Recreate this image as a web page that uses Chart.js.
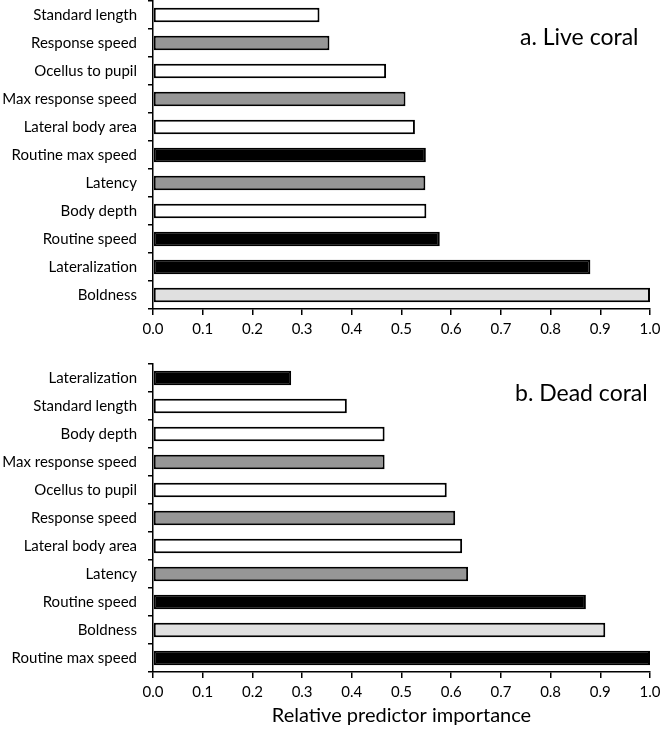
<!DOCTYPE html>
<html><head><meta charset="utf-8">
<script src="https://cdn.jsdelivr.net/npm/chart.js@4.4.0/dist/chart.umd.min.js"></script>
<style>
html,body{margin:0;padding:0;background:#fff;}
#wrap{position:relative;width:669px;height:735px;overflow:hidden;background:#fff;}
.box{position:absolute;left:0;width:669px;}
.panel{position:absolute;font-family:Lato, sans-serif;font-size:23px;line-height:30px;color:#000;white-space:nowrap;}
</style></head><body>
<div id="wrap">
<div class="box" style="top:0;height:350px"><canvas id="c1"></canvas></div>
<div class="box" style="top:350px;height:385px"><canvas id="c2"></canvas></div>
<div class="panel" style="left:520px;top:21px">a. Live coral</div>
<div class="panel" style="left:515px;top:377px">b. Dead coral</div>
</div>
<script>
// Panel a: Live coral
const liveCategories = ["Standard length","Response speed","Ocellus to pupil","Max response speed","Lateral body area","Routine max speed","Latency","Body depth","Routine speed","Lateralization","Boldness"];
const liveValues = [0.335,0.355,0.469,0.508,0.527,0.549,0.548,0.550,0.577,0.880,1.000];
const liveGroups = ["morph","escape","morph","escape","morph","routine","escape","morph","routine","routine","bold"];

// Panel b: Dead coral
const deadCategories = ["Lateralization","Standard length","Body depth","Max response speed","Ocellus to pupil","Response speed","Lateral body area","Latency","Routine speed","Boldness","Routine max speed"];
const deadValues = [0.278,0.390,0.466,0.466,0.591,0.608,0.622,0.634,0.871,0.910,1.000];
const deadGroups = ["routine","morph","morph","escape","morph","escape","morph","escape","routine","bold","routine"];

const xTicks = [0.0,0.1,0.2,0.3,0.4,0.5,0.6,0.7,0.8,0.9,1.0];
const xTitle = "Relative predictor importance";

const groupColor = {morph:"#ffffff", escape:"#969696", routine:"#000000", bold:"#e0e0e0"};
const FONT = "Lato, 'Noto Sans', sans-serif";

function makeChart(id, cats, vals, groups, padTop, xHeight, showTitle){
  return new Chart(document.getElementById(id), {
    type: 'bar',
    data: {
      labels: cats,
      datasets: [{
        data: vals,
        backgroundColor: groups.map(g => groupColor[g]),
        borderColor: '#000',
        borderWidth: 2,
        borderSkipped: false,
        barPercentage: 0.52,
        categoryPercentage: 1.0
      }]
    },
    options: {
      indexAxis: 'y',
      responsive: true,
      maintainAspectRatio: false,
      animation: false,
      layout: {padding: {top: padTop, right: 19, left: 0, bottom: 0}},
      plugins: {legend: {display: false}, tooltip: {enabled: false}},
      scales: {
        x: {
          type: 'linear', min: 0, max: 1,
          afterBuildTicks: s => { s.ticks = xTicks.map(v => ({value: v})); },
          ticks: {font: {family: FONT, size: 15}, color: '#000', padding: 5,
                  callback: v => Number(v).toFixed(1), maxRotation: 0, autoSkip: false},
          grid: {drawOnChartArea: false, drawTicks: true, tickLength: 6, color: '#000', lineWidth: 1.5},
          border: {display: true, color: '#000', width: 1.5},
          title: {display: showTitle, text: xTitle, font: {family: FONT, size: 20}, color: '#000', padding: {top: 4, bottom: 7}},
          afterFit: s => { s.height = xHeight; }
        },
        y: {
          type: 'category',
          ticks: {font: {family: FONT, size: 15}, color: '#000', padding: 11, autoSkip: false},
          grid: {offset: true, drawOnChartArea: false, drawTicks: true, tickLength: 5, color: '#000', lineWidth: 1.5},
          border: {display: true, color: '#000', width: 1.5},
          afterFit: s => { s.width = 153; s.paddingTop = 0; s.paddingBottom = 0; }
        }
      }
    }
  });
}
makeChart('c1', liveCategories, liveValues, liveGroups, 1, 41, false);
makeChart('c2', deadCategories, deadValues, deadGroups, 14, 63, true);
</script>
</body></html>
